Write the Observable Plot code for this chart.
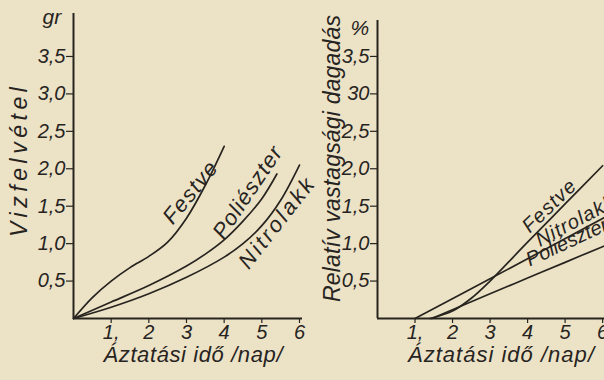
<!DOCTYPE html>
<html><head><meta charset="utf-8">
<script src="https://cdn.jsdelivr.net/npm/d3@7"></script>
<script src="https://cdn.jsdelivr.net/npm/@observablehq/plot@0.6"></script>
<style>
html,body{margin:0;padding:0;background:#ece2c6;}
#wrap{position:relative;width:604px;height:380px;overflow:hidden;background:#ece2c6;}
#left,#right{position:absolute;top:0;}
#left{left:0;} #right{left:302px;}
</style></head><body><div id="wrap"><div id="left"></div><div id="right"></div></div>
<script>
// ticks and tick labels
const yTicks = [0.5, 1, 1.5, 2, 2.5, 3, 3.5];
const yLabelsLeft = ["0,5", "1,0", "1,5", "2,0", "2,5", "3,0", "3,5"];
const yLabelsRight = ["0,5", "1,0", "1,5", "2,0", "2,5", "30", "3,5"];
const xTicks = [1, 2, 3, 4, 5, 6];
const xLabels = ["1,", "2", "3", "4", "5", "6"];

// Left panel: Vízfelvétel (gr) vs Áztatási idő (nap)
const leftFestveX = [0, 0.5, 1, 1.5, 2, 2.5, 3, 3.5, 4];
const leftFestveY = [0, 0.28, 0.5, 0.68, 0.83, 1.02, 1.34, 1.78, 2.3];
const leftPoliX = [0, 1, 2, 3, 3.5, 4, 4.5, 5, 5.4];
const leftPoliY = [0, 0.22, 0.44, 0.7, 0.86, 1.05, 1.3, 1.6, 1.93];
const leftNitroX = [0, 1, 2, 3, 4, 4.5, 5, 5.5, 6];
const leftNitroY = [0, 0.15, 0.33, 0.55, 0.82, 1.0, 1.24, 1.58, 2.05];

// Right panel: Relatív vastagsági dagadás (%) vs Áztatási idő (nap)
const rightFestveX = [1.4, 2, 2.5, 3, 4, 5, 6];
const rightFestveY = [0, 0.1, 0.27, 0.5, 1.02, 1.53, 2.04];
const rightNitroX = [1, 3, 6.05];
const rightNitroY = [0, 0.53, 1.35];
const rightPoliX = [1.45, 3, 4, 5, 6.05];
const rightPoliY = [0, 0.33, 0.54, 0.75, 0.97];

// curve label placements
const leftCurveLabels = [
  {name: "Festve", x: 3.1, y: 1.68, angle: -51},
  {name: "Poliészter", x: 4.62, y: 1.68, angle: -56},
  {name: "Nitrolakk", x: 5.39, y: 1.27, angle: -52}
];
const rightCurveLabels = [
  {name: "Festve", x: 4.57, y: 1.5, angle: -44},
  {name: "Nitrolakk", x: 5.26, y: 1.3, angle: -28},
  {name: "Poliészter", x: 5.05, y: 1.02, angle: -25}
];

const xTitle = "Áztatási idő /nap/";

function rows(series, xs, ys) { return xs.map((x, i) => ({series, x, y: ys[i]})); }

const leftData = [
  ...rows("Festve", leftFestveX, leftFestveY),
  ...rows("Poliészter", leftPoliX, leftPoliY),
  ...rows("Nitrolakk", leftNitroX, leftNitroY)
];
const rightData = [
  ...rows("Festve", rightFestveX, rightFestveY),
  ...rows("Nitrolakk", rightNitroX, rightNitroY),
  ...rows("Poliészter", rightPoliX, rightPoliY)
];

const FONT = '"Liberation Sans",Arimo,"DejaVu Sans",sans-serif';
const ink = "#27241f";

function panel({data, labels, yLabels, marginLeft, marginTop, xMax, yMax, yTitle, unit, unitDx, unitDy, yTitleDx, yTitleDy, xTitleDx, labelSize, fit}) {
  const yMap = new Map(yTicks.map((d, i) => [d, yLabels[i]]));
  const xMap = new Map(xTicks.map((d, i) => [d, xLabels[i]]));
  const svg = Plot.plot({
    width: 302, height: 380,
    marginLeft, marginTop, marginRight: 0, marginBottom: 62,
    x: {domain: [0, xMax]},
    y: {domain: [0, yMax]},
    style: `font-family:${FONT};font-size:20px;font-style:italic;color:${ink};background:transparent;overflow:visible;`,
    marks: [
      Plot.ruleX([0], {strokeWidth: 2, stroke: ink}),
      Plot.ruleY([0], {strokeWidth: 2, stroke: ink}),
      Plot.axisY(yTicks, {tickFormat: d => yMap.get(d), tickSize: 7, tickPadding: 1, label: null, strokeWidth: 1.2}),
      Plot.axisX(xTicks, {tickFormat: d => xMap.get(d), tickSize: 5, tickPadding: 1, label: null, strokeWidth: 1.2}),
      Plot.line(data, {x: "x", y: "y", z: "series", curve: "catmull-rom", stroke: ink, strokeWidth: 1.7}),
      Plot.text(labels, {x: "x", y: "y", text: "name", rotate: "angle", fill: ink, fontSize: labelSize}),
      Plot.text([yTitle], {frameAnchor: "left", textAnchor: "middle", rotate: -90, dx: yTitleDx, dy: yTitleDy, fill: ink, fontSize: 23}),
      Plot.text([unit], {frameAnchor: "top-left", dx: unitDx, dy: unitDy, fill: ink, fontSize: 21}),
      Plot.text([xTitle], {frameAnchor: "bottom", textAnchor: "middle", lineAnchor: "top", dy: 28, dx: xTitleDx, fill: ink, fontSize: 22})
    ]
  });
  // stretch lettering to the hand-lettered widths of the original
  for (const [content, len] of fit) {
    d3.select(svg).selectAll("text")
      .filter(function() { return this.textContent === content; })
      .attr("textLength", len).attr("lengthAdjust", "spacing");
  }
  return svg;
}

document.getElementById("left").append(panel({
  data: leftData, labels: leftCurveLabels, yLabels: yLabelsLeft,
  marginLeft: 73, marginTop: 13, xMax: 6.08, yMax: 4.074,
  yTitle: "Vizfelvétel", unit: "gr", unitDx: -31, unitDy: -4, yTitleDx: -54, yTitleDy: -4, xTitleDx: 5,
  labelSize: 22,
  fit: [["Festve", 73], ["Poliészter", 106], ["Nitrolakk", 108], ["Vizfelvétel", 150], [xTitle, 179]]
}));
document.getElementById("right").append(panel({
  data: rightData, labels: rightCurveLabels, yLabels: yLabelsRight,
  marginLeft: 75, marginTop: 20, xMax: 6.05, yMax: 3.98,
  yTitle: "Relatív vastagsági dagadás", unit: "%", unitDx: -27, unitDy: 0, yTitleDx: -45, yTitleDy: -11, xTitleDx: 10,
  labelSize: 20,
  fit: [["Festve", 66], ["Poliészter", 88], ["Nitrolakk", 86], ["Relatív vastagsági dagadás", 287], [xTitle, 186]]
}));
</script></body></html>
